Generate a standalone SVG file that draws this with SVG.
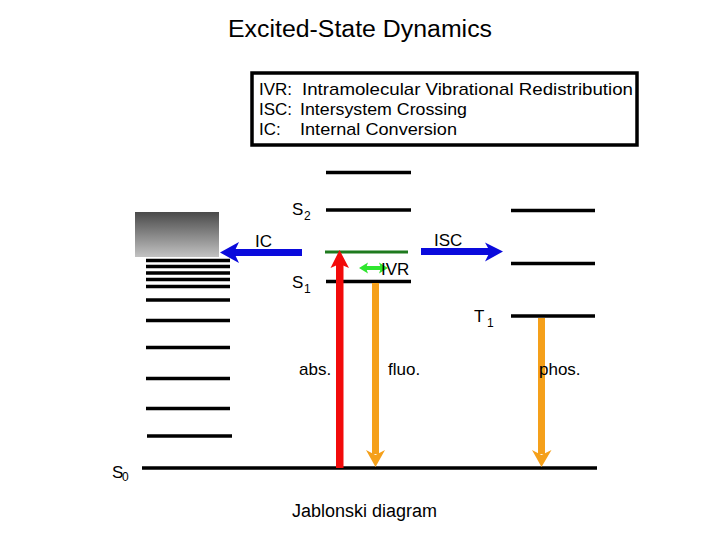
<svg xmlns="http://www.w3.org/2000/svg" width="720" height="540" viewBox="0 0 720 540">
<style>
  text { font-family: "Liberation Sans", Arial, sans-serif; fill: #000; }
  .t { font-size: 17px; }
  .sub { font-size: 12px; }
  .lvl { stroke: #000; stroke-width: 3.5; fill: none; }
  .blue { fill: #0a0adc; }
  .orange { fill: #f5a01a; }
  .red { fill: #f20a0a; }
  .green { fill: #2fe62f; }
</style>
<defs>
  <linearGradient id="grad" x1="0" y1="0" x2="0" y2="1">
    <stop offset="0" stop-color="#4a4a4a"/>
    <stop offset="1" stop-color="#c2c2c2"/>
  </linearGradient>
</defs>
<rect width="720" height="540" fill="#fff"/>

<g id="title">
  <text x="228" y="37" font-size="23" textLength="264" lengthAdjust="spacingAndGlyphs">Excited-State Dynamics</text>
</g>

<g id="legend">
  <rect x="252" y="73" width="385" height="72" fill="#fff" stroke="#000" stroke-width="3.5"/>
  <text class="t" x="259" y="95">IVR:</text>
  <text class="t" x="302" y="95" textLength="331" lengthAdjust="spacingAndGlyphs">Intramolecular Vibrational Redistribution</text>
  <text class="t" x="259" y="115">ISC:</text>
  <text class="t" x="300" y="115" textLength="167" lengthAdjust="spacingAndGlyphs">Intersystem Crossing</text>
  <text class="t" x="259" y="135">IC:</text>
  <text class="t" x="300" y="135" textLength="157" lengthAdjust="spacingAndGlyphs">Internal Conversion</text>
</g>

<g id="ground-state">
  <line class="lvl" x1="142" y1="468" x2="597" y2="468"/>
  <text class="t" x="112" y="478">S</text><text class="sub" x="122" y="481">0</text>
</g>

<g id="ic-manifold">
  <rect x="135" y="212" width="84" height="45" fill="url(#grad)"/>
  <line class="lvl" x1="146" y1="260.5" x2="230" y2="260.5" stroke-width="3"/>
  <line class="lvl" x1="146" y1="266.5" x2="230" y2="266.5" stroke-width="3"/>
  <line class="lvl" x1="146" y1="273" x2="230" y2="273" stroke-width="3"/>
  <line class="lvl" x1="146" y1="279.5" x2="230" y2="279.5" stroke-width="3"/>
  <line class="lvl" x1="146" y1="286.5" x2="230" y2="286.5" stroke-width="3"/>
  <line class="lvl" x1="146" y1="300" x2="230" y2="300" stroke-width="3"/>
  <line class="lvl" x1="146" y1="320.5" x2="230" y2="320.5" stroke-width="3"/>
  <line class="lvl" x1="146" y1="347.5" x2="230" y2="347.5" stroke-width="3"/>
  <line class="lvl" x1="146" y1="378.5" x2="230" y2="378.5" stroke-width="3"/>
  <line class="lvl" x1="146" y1="408.5" x2="230" y2="408.5" stroke-width="3"/>
  <line class="lvl" x1="147" y1="436" x2="232" y2="436" stroke-width="3"/>
</g>

<g id="singlet-states">
  <line class="lvl" x1="326" y1="172.5" x2="411" y2="172.5"/>
  <line class="lvl" x1="326" y1="210" x2="411" y2="210"/>
  <line x1="325" y1="252" x2="408" y2="252" stroke="#1e7a1e" stroke-width="3"/>
  <line class="lvl" x1="326" y1="281.5" x2="411" y2="281.5"/>
  <text class="t" x="292" y="215">S</text><text class="sub" x="304" y="220">2</text>
  <text class="t" x="292" y="288">S</text><text class="sub" x="304" y="293">1</text>
</g>

<g id="triplet-states">
  <line class="lvl" x1="511" y1="210.5" x2="595" y2="210.5"/>
  <line class="lvl" x1="511" y1="263.5" x2="595" y2="263.5"/>
  <line class="lvl" x1="511" y1="316" x2="595" y2="316"/>
  <text class="t" x="474" y="322">T</text><text class="sub" x="487" y="327">1</text>
</g>

<g id="connectors">
  <g id="ic-arrow">
    <rect class="blue" x="234" y="249" width="68" height="7"/>
    <polygon class="blue" points="220,252.5 239,242 234,252.5 239,263"/>
    <text class="t" x="255" y="247">IC</text>
  </g>
  <g id="isc-arrow">
    <rect class="blue" x="421" y="248" width="70" height="7"/>
    <polygon class="blue" points="503,251.5 485,242.5 490,251.5 485,261.5"/>
    <text class="t" x="434" y="246">ISC</text>
  </g>
  <g id="abs-arrow">
    <rect class="red" x="336" y="264" width="7.5" height="204"/>
    <polygon class="red" points="339.5,250 349,268 339.5,264 330.5,268"/>
    <text class="t" x="299" y="375">abs.</text>
  </g>
  <g id="fluo-arrow">
    <rect class="orange" x="372" y="283" width="7" height="171"/>
    <polygon class="orange" points="366,450 375.5,455 385,450 375.5,467"/>
    <text class="t" x="388" y="375">fluo.</text>
  </g>
  <g id="phos-arrow">
    <rect class="orange" x="538" y="318" width="7" height="136"/>
    <polygon class="orange" points="532,450 541.5,455 551.5,450 541.5,467"/>
    <text class="t" x="539" y="375">phos.</text>
  </g>
  <g id="ivr-arrow">
    <rect class="green" x="365" y="266" width="18" height="4"/>
    <polygon class="green" points="359,268 368,262.5 366,268 368,273.5"/>
    <polygon class="green" points="388,268 379,262.5 381,268 379,273.5"/>
    <text class="t" x="381" y="275">IVR</text>
  </g>
</g>

<g id="caption">
  <text x="292" y="517" font-size="18" textLength="145" lengthAdjust="spacingAndGlyphs">Jablonski diagram</text>
</g>
</svg>
